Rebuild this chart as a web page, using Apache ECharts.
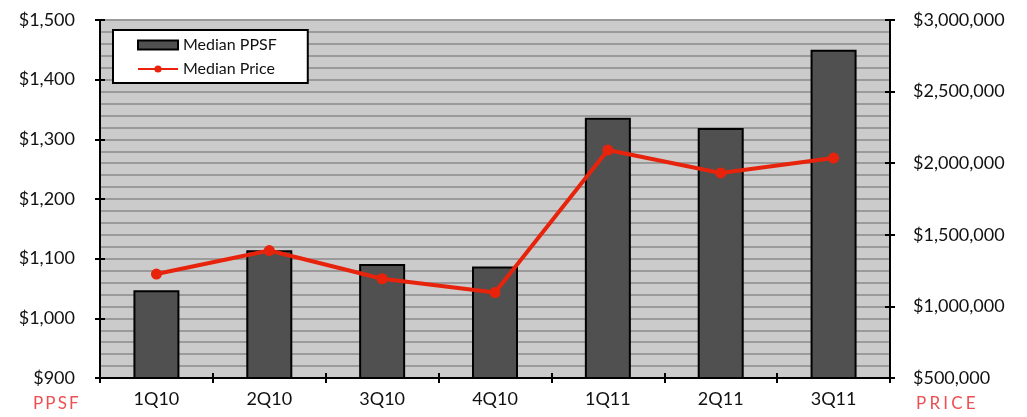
<!DOCTYPE html>
<html><head><meta charset="utf-8">
<script src="https://cdn.jsdelivr.net/npm/echarts@6/dist/echarts.min.js"></script>
<style>html,body{margin:0;padding:0;background:#fff}#c{width:1027px;height:417px}</style>
</head><body><div id="c"></div>
<script>
const categories = ['1Q10','2Q10','3Q10','4Q10','1Q11','2Q11','3Q11'];
const medianPPSF = [1047, 1114, 1091, 1087, 1336, 1319, 1450];
const medianPrice = [1226000, 1390000, 1193000, 1097000, 2092000, 1932000, 2036000];
const leftAxisTitle = 'PPSF';
const rightAxisTitle = 'PRICE';

const FONT = 'Lato, "Noto Sans", sans-serif';
const chart = echarts.init(document.getElementById('c'));
const fmtDollar = v => '$' + Math.round(v).toString().replace(/\B(?=(\d{3})+(?!\d))/g, ',');
const tickCommon = {show:true, length:5, lineStyle:{color:'#000', width:2}};
chart.setOption({
  animation:false,
  textStyle:{fontFamily:FONT},
  grid:{left:100, right:137, top:20, bottom:39, show:true, backgroundColor:'#cbcbcb', borderWidth:0},
  legend:{
    left:113, top:30, padding:[7,31,6,24], orient:'vertical',
    backgroundColor:'#fff', borderColor:'#000', borderWidth:2, borderRadius:0,
    itemWidth:40, itemHeight:9, itemGap:8,
    textStyle:{fontFamily:FONT, fontSize:16, color:'#111'},
    data:[{name:'Median PPSF', icon:'rect'}, {name:'Median Price'}]
  },
  xAxis:[{
    type:'category', data:categories, boundaryGap:true,
    axisLine:{show:true, lineStyle:{color:'#000', width:2}},
    axisTick:Object.assign({}, tickCommon, {alignWithLabel:false}),
    axisLabel:{fontFamily:FONT, fontSize:18, color:'#111', margin:12}
  },{
    type:'category', data:categories, position:'bottom', boundaryGap:true,
    axisLine:{show:false}, axisLabel:{show:false},
    axisTick:Object.assign({}, tickCommon, {inside:true})
  }],
  yAxis:[{
    type:'value', min:900, max:1500, interval:100, position:'left',
    axisLine:{show:true, lineStyle:{color:'#000', width:2}},
    axisTick:tickCommon,
    axisLabel:{fontFamily:FONT, fontSize:18, color:'#111', margin:25, formatter:fmtDollar},
    splitLine:{show:true, lineStyle:{color:'#9a9a9a', width:2}},
    minorTick:{show:false, splitNumber:5},
    minorSplitLine:{show:true, lineStyle:{color:'#9a9a9a', width:2}}
  },{
    type:'value', min:500000, max:3000000, interval:500000, position:'right',
    axisLine:{show:true, lineStyle:{color:'#000', width:2}},
    axisTick:tickCommon,
    axisLabel:{fontFamily:FONT, fontSize:18, color:'#111', margin:23, formatter:fmtDollar},
    splitLine:{show:false}
  },{
    type:'value', min:900, max:1500, interval:100, position:'left',
    axisLine:{show:false}, axisLabel:{show:false}, splitLine:{show:false},
    axisTick:Object.assign({}, tickCommon, {inside:true})
  },{
    type:'value', min:500000, max:3000000, interval:500000, position:'right',
    axisLine:{show:false}, axisLabel:{show:false}, splitLine:{show:false},
    axisTick:Object.assign({}, tickCommon, {inside:true})
  }],
  series:[{
    name:'Median PPSF', type:'bar', data:medianPPSF, yAxisIndex:0, barWidth:46,
    itemStyle:{color:'#505050', borderColor:'#000', borderWidth:2}
  },{
    name:'Median Price', type:'line', data:medianPrice, yAxisIndex:1,
    symbol:'circle', symbolSize:11,
    lineStyle:{color:'#e8230c', width:4},
    itemStyle:{color:'#e8230c'}
  }],
  graphic:[
    {type:'text', left:33, top:395, style:{text:leftAxisTitle.split('').join('\u2009'), fontFamily:FONT, fontSize:17, fill:'#ee4f52'}},
    {type:'text', left:916, top:395, style:{text:rightAxisTitle.split('').join('\u2009\u200a'), fontFamily:FONT, fontSize:17, fill:'#ee4f52'}}
  ]
});
</script></body></html>
